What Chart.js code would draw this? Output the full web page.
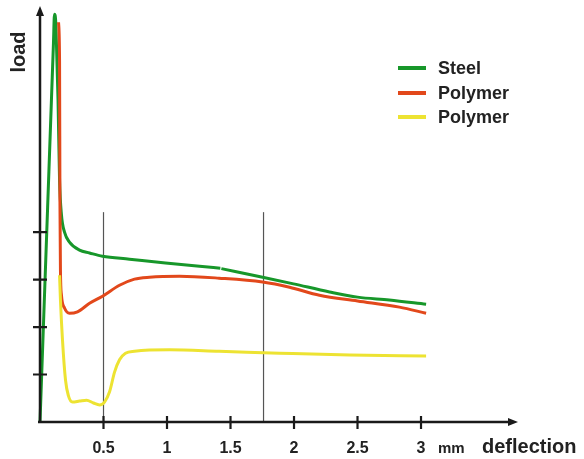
<!DOCTYPE html>
<html>
<head>
<meta charset="utf-8">
<script src="https://cdn.jsdelivr.net/npm/chart.js@4.4.1/dist/chart.umd.min.js"></script>
<style>
html,body{margin:0;padding:0;background:#fff;}
#wrap{width:584px;height:459px;position:relative;}
</style>
</head>
<body>
<div id="wrap"><canvas id="c" width="584" height="459"></canvas></div>
<script>
// ---- data (deflection in mm, load in tick units) ----
const steelX = [0, 0.03, 0.06, 0.09, 0.106, 0.114, 0.12, 0.126, 0.142, 0.154, 0.169, 0.193, 0.232, 0.311, 0.39, 0.492, 0.705, 0.988, 1.256, 1.42, 1.424, 1.428, 1.753, 1.996, 2.28, 2.5, 2.75, 3.04];
const steelY = [0, 2.26, 4.52, 6.78, 7.98, 8.59, 8.55, 8.3, 6.78, 5.09, 4.36, 4.0, 3.79, 3.62, 3.56, 3.49, 3.43, 3.35, 3.28, 3.24, null, 3.23, 3.05, 2.91, 2.74, 2.63, 2.57, 2.48];

const polyRedX = [0.146, 0.154, 0.157, 0.161, 0.169, 0.193, 0.232, 0.295, 0.39, 0.492, 0.626, 0.744, 0.862, 1.098, 1.41, 1.752, 1.965, 2.2, 2.5, 2.83, 3.04];
const polyRedY = [8.42, 7.6, 4.67, 3.2, 2.67, 2.4, 2.29, 2.32, 2.5, 2.65, 2.88, 3.01, 3.05, 3.07, 3.03, 2.95, 2.84, 2.67, 2.55, 2.42, 2.29];

const polyYelX = [0.154, 0.161, 0.177, 0.201, 0.224, 0.256, 0.311, 0.366, 0.421, 0.469, 0.508, 0.547, 0.587, 0.626, 0.673, 0.744, 1.02, 1.41, 1.886, 2.44, 3.04];
const polyYelY = [3.09, 2.57, 1.73, 0.88, 0.55, 0.42, 0.44, 0.46, 0.4, 0.36, 0.42, 0.63, 1.05, 1.31, 1.45, 1.49, 1.52, 1.49, 1.45, 1.41, 1.39];

const markerX = [0.5, 1.76];     // vertical reference lines
const markerTop = 4.42;

const seriesLabels = ["Steel", "Polymer", "Polymer"];
const seriesColors = ["#17972a", "#e2481b", "#ede332"];

const xTicks = [0.5, 1, 1.5, 2, 2.5, 3];
const xTickLabels = ["0.5", "1", "1.5", "2", "2.5", "3"];
const yTicks = [1, 2, 3, 4];
const xUnit = "mm";
const xTitle = "deflection";
const yTitle = "load";

const xMax = 3.74, yMax = 8.72;

// ---- build ----
const pts = (xs, ys) => xs.map((x, i) => ({x: x, y: ys[i]}));
const datasets = [];
markerX.forEach(mx => datasets.push({
  label: "_marker", data: [{x: mx, y: 0}, {x: mx, y: markerTop}],
  borderColor: "#555", borderWidth: 1.2, pointRadius: 0, tension: 0, order: 5
}));
[[steelX, steelY], [polyRedX, polyRedY], [polyYelX, polyYelY]].forEach((s, i) => datasets.push({
  label: seriesLabels[i], data: pts(s[0], s[1]),
  borderColor: seriesColors[i], borderWidth: 3, pointRadius: 0,
  cubicInterpolationMode: "monotone", spanGaps: false, order: 3 - i
}));

const FONT = '"Liberation Sans", Arial, sans-serif';

const decor = {
  id: "decor",
  afterDatasetsDraw(chart) {
    const ctx = chart.ctx, xs = chart.scales.x, ys = chart.scales.y;
    const x0 = xs.getPixelForValue(0), y0 = ys.getPixelForValue(0);
    const xEnd = xs.getPixelForValue(xMax), yEnd = ys.getPixelForValue(yMax);
    ctx.save();
    ctx.strokeStyle = "#1a1a1a"; ctx.fillStyle = "#1a1a1a";
    ctx.lineWidth = 2.5; ctx.lineCap = "butt";
    // axes
    ctx.beginPath();
    ctx.moveTo(x0 - 2, y0); ctx.lineTo(xEnd - 4, y0);
    ctx.moveTo(x0, y0 + 1); ctx.lineTo(x0, yEnd + 5);
    ctx.stroke();
    // arrowheads
    ctx.beginPath();
    ctx.moveTo(xEnd + 3, y0); ctx.lineTo(xEnd - 7, y0 - 4); ctx.lineTo(xEnd - 7, y0 + 4); ctx.closePath();
    ctx.fill();
    ctx.beginPath();
    ctx.moveTo(x0, yEnd - 2); ctx.lineTo(x0 - 4, yEnd + 8); ctx.lineTo(x0 + 4, yEnd + 8); ctx.closePath();
    ctx.fill();
    // ticks
    ctx.lineWidth = 2.2;
    ctx.beginPath();
    xTicks.forEach(v => { const p = xs.getPixelForValue(v); ctx.moveTo(p, y0 - 6); ctx.lineTo(p, y0 + 7); });
    yTicks.forEach(v => { const p = ys.getPixelForValue(v); ctx.moveTo(x0 - 7, p); ctx.lineTo(x0 + 7, p); });
    ctx.stroke();
    // tick labels
    ctx.fillStyle = "#222";
    ctx.font = "bold 16px " + FONT;
    ctx.textAlign = "center"; ctx.textBaseline = "middle";
    xTicks.forEach((v, i) => ctx.fillText(xTickLabels[i], xs.getPixelForValue(v), y0 + 27));
    const p3 = xs.getPixelForValue(xTicks[xTicks.length - 1]);
    ctx.textAlign = "left";
    ctx.font = "bold 15px " + FONT;
    ctx.fillText(xUnit, p3 + 17, y0 + 27);
    ctx.font = "bold 20px " + FONT;
    ctx.fillText(xTitle, p3 + 61, y0 + 25);
    // y title
    ctx.save();
    ctx.translate(x0 - 21, 52);
    ctx.rotate(-Math.PI / 2);
    ctx.textAlign = "center";
    ctx.fillText(yTitle, 0, 0);
    ctx.restore();
    // legend
    const ly = [68, 93, 117];
    ctx.font = "bold 18px " + FONT;
    ctx.textAlign = "left";
    seriesLabels.forEach((lab, i) => {
      ctx.strokeStyle = seriesColors[i]; ctx.lineWidth = 4;
      ctx.beginPath(); ctx.moveTo(398, ly[i]); ctx.lineTo(426, ly[i]); ctx.stroke();
      ctx.fillStyle = "#222";
      ctx.fillText(lab, 438, ly[i] + 1);
    });
    ctx.restore();
  }
};

new Chart(document.getElementById("c"), {
  type: "line",
  data: {datasets: datasets},
  options: {
    responsive: false, animation: false, devicePixelRatio: 1,
    layout: {padding: {left: 40, right: 69, top: 8, bottom: 37}},
    clip: false,
    plugins: {legend: {display: false}, tooltip: {enabled: false}},
    scales: {
      x: {type: "linear", min: 0, max: xMax, display: false},
      y: {type: "linear", min: 0, max: yMax, display: false}
    }
  },
  plugins: [decor]
});
</script>
</body>
</html>
